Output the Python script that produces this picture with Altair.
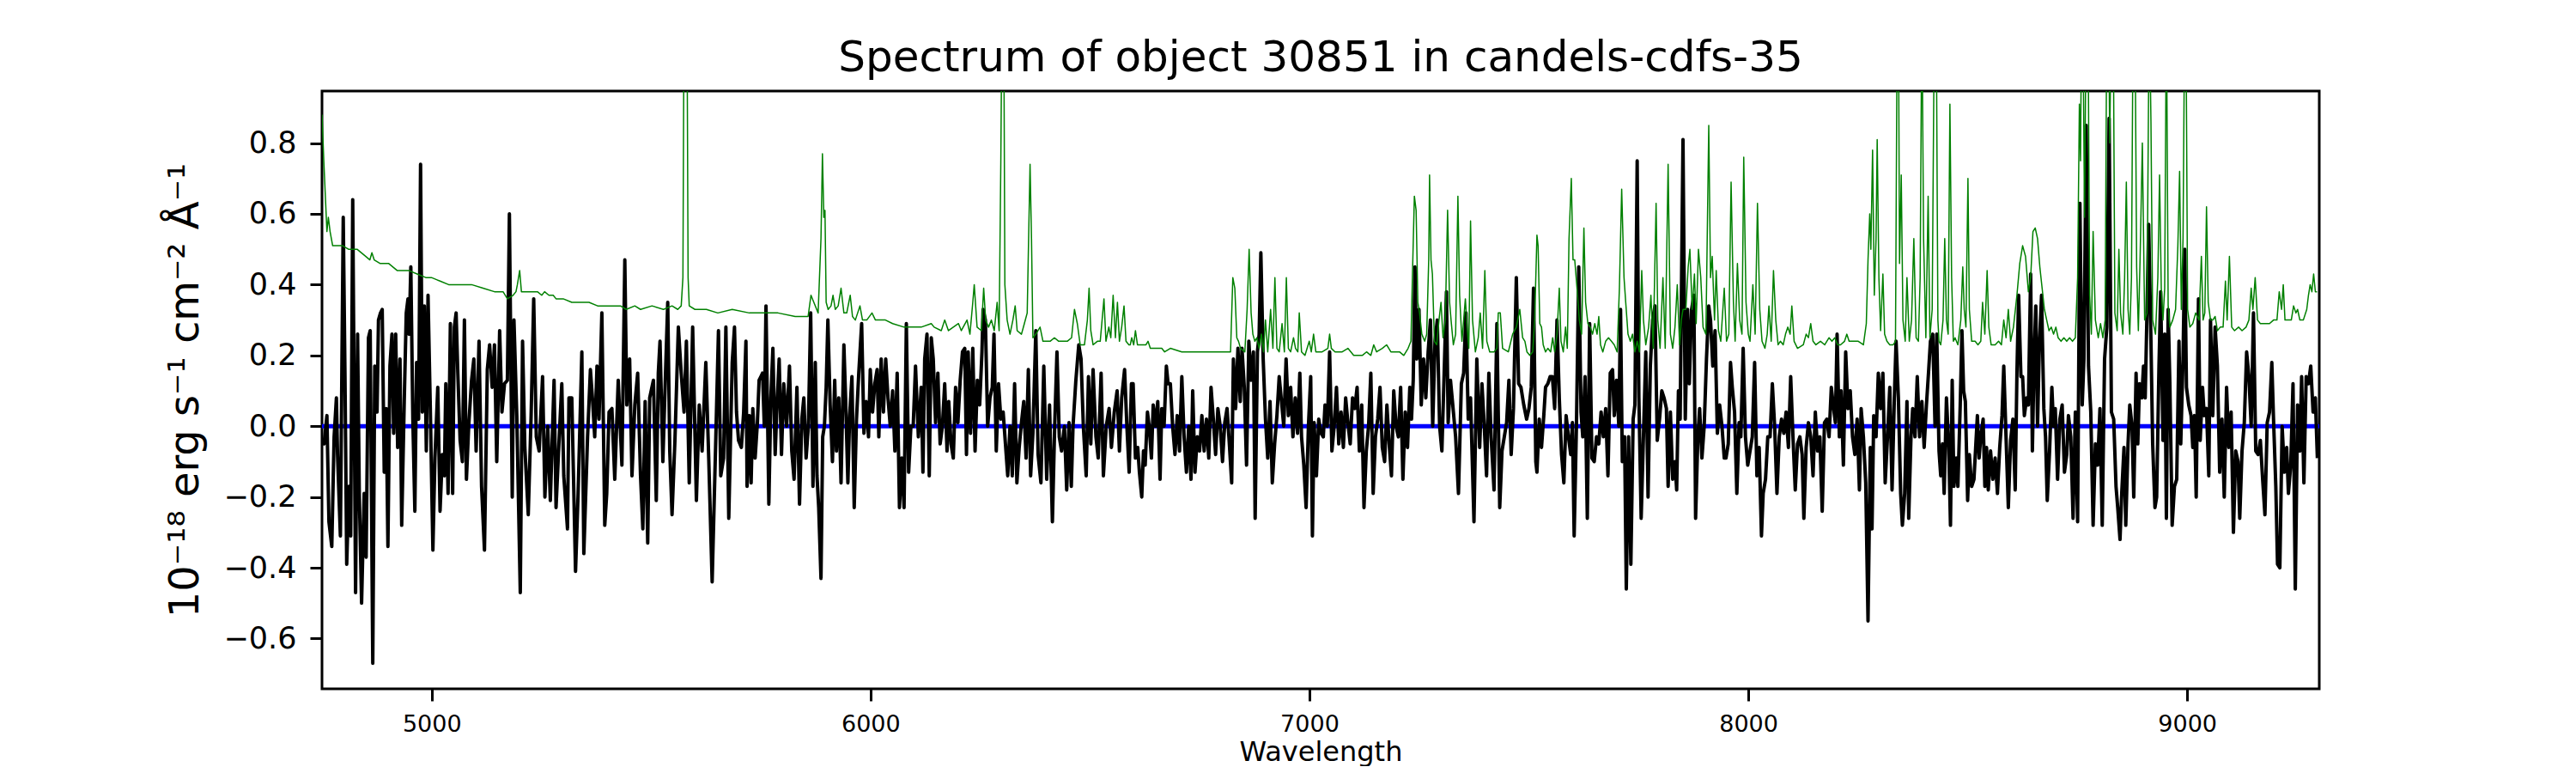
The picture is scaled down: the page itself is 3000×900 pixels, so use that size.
import altair as alt
import pandas as pd

# ---------------- data ----------------
# Black: object flux, 1e-18 erg/s/cm2/A
black_wave_a = [
    4750.1, 4754.7, 4761.2, 4765.8, 4772.3, 4777.6, 4782.8, 4785.4, 4791.9, 4798.4,
    4802.4, 4806.3, 4811.5, 4815.4, 4820.0, 4826.5, 4831.1, 4835.0, 4840.2, 4846.1,
    4850.6, 4855.9, 4859.8, 4865.7, 4870.2, 4875.4, 4878.7, 4883.3, 4887.2, 4891.8,
    4896.3, 4900.2, 4904.8, 4909.4, 4913.3, 4917.9, 4922.4, 4927.7, 4931.6, 4937.4,
    4942.0, 4945.9, 4948.5, 4952.4, 4957.0, 4961.6, 4965.5, 4970.1, 4974.6, 4978.6,
    4983.1, 4987.7, 4991.6, 4996.8, 5002.7, 5007.3, 5013.8, 5019.0, 5024.2, 5028.8,
    5032.1, 5037.3, 5042.5, 5047.7, 5051.6, 5055.6, 5059.5, 5064.7, 5069.9, 5074.5,
    5079.1, 5084.3, 5090.8, 5096.0, 5101.2, 5107.8, 5113.6, 5120.2, 5126.7, 5131.9,
    5137.8, 5143.0, 5148.2, 5154.8, 5160.0, 5165.9, 5172.4, 5177.0, 5183.5, 5187.4,
    5193.9, 5201.8, 5207.0, 5212.2, 5220.0, 5226.5, 5232.4, 5238.3, 5244.8, 5252.6,
    5257.9, 5264.4, 5270.3, 5278.8, 5283.3, 5289.8, 5296.4, 5300.9, 5309.4, 5312.7,
    5319.2, 5327.7, 5333.6, 5342.1, 5346.6, 5355.1, 5361.6, 5366.2, 5371.4, 5376.6,
    5381.2, 5387.7, 5394.3, 5398.8, 5404.1, 5410.6, 5417.1, 5425.0, 5433.4, 5440.0,
    5444.5, 5451.0, 5456.3, 5462.8, 5469.3, 5475.8, 5481.1, 5486.3, 5492.2, 5496.7,
    5505.2, 5511.7, 5516.3, 5520.2, 5526.7, 5532.0, 5537.8, 5542.4, 5547.6, 5554.2,
    5562.0, 5568.5, 5575.0, 5580.3, 5586.8, 5594.6, 5603.1, 5609.6, 5616.1, 5624.6,
    5631.2, 5639.0, 5646.8, 5653.4, 5658.6, 5665.1, 5670.3, 5676.9,
]
black_flux_a = [
    -0.04, -0.05, 0.03, -0.27, -0.34, -0.03, 0.08, -0.08, -0.31, 0.59,
    0.14, -0.39, -0.17, -0.31, 0.64, -0.47, 0.26, -0.19, -0.50, -0.19,
    -0.37, 0.25, 0.27, -0.67, 0.17, 0.04, 0.30, 0.32, 0.33, -0.13,
    0.05, -0.34, 0.17, 0.26, -0.02, 0.26, -0.06, 0.19, -0.28, 0.07,
    0.32, 0.36, 0.26, 0.45, 0.02, -0.24, 0.18, 0.02, 0.74, 0.04,
    0.34, -0.07, 0.37, 0.05, -0.35, -0.09, 0.11, -0.24, -0.08, -0.14,
    0.12, -0.19, 0.29, -0.19, 0.28, 0.32, 0.15, -0.04, -0.10, 0.30,
    -0.15, 0.00, 0.13, 0.19, -0.07, 0.24, -0.17, -0.35, 0.16, 0.23,
    0.11, 0.23, -0.10, 0.27, 0.04, 0.12, 0.13, 0.60, -0.20, 0.30,
    0.03, -0.47, 0.24, -0.06, -0.25, 0.03, 0.36, -0.03, -0.07, 0.14,
    -0.20, 0.00, -0.21, 0.13, -0.23, -0.05, 0.12, -0.14, -0.29, 0.08,
    0.08, -0.41, -0.19, 0.21, -0.36, -0.03, 0.16, 0.08, -0.03, 0.17,
    0.02, 0.32, -0.28, -0.19, 0.04, 0.05, -0.15, 0.13, -0.11, 0.47,
    0.06, 0.19, -0.14, 0.06, 0.15, -0.14, -0.29, 0.07, -0.33, 0.08,
    0.13, -0.21, 0.15, 0.24, -0.10, 0.12, 0.35, -0.07, -0.25, -0.04,
    0.28, 0.15, 0.04, 0.24, -0.16, 0.28, -0.21, 0.06, -0.07, 0.18,
    -0.09, -0.44, -0.06, 0.27, -0.14, -0.09, 0.28, -0.26,
]
black_wave_b = [
    5684.7, 5689.9, 5694.5, 5699.1, 5705.6, 5710.8, 5716.0, 5718.6, 5723.9, 5727.8,
    5731.7, 5736.9, 5742.1, 5746.0, 5750.0, 5753.9, 5757.8, 5761.7, 5768.2, 5772.8,
    5777.4, 5782.6, 5786.5, 5791.7, 5797.0, 5802.2, 5808.7, 5815.2, 5820.4, 5825.7,
    5832.2, 5838.1, 5843.3, 5847.9, 5853.1, 5858.3, 5863.5, 5868.7, 5874.0, 5877.9,
    5881.8, 5887.0, 5890.9, 5894.8, 5898.8, 5902.7, 5907.9, 5913.1, 5918.3, 5922.3,
    5927.5, 5932.7, 5939.2, 5943.1, 5948.3, 5952.3, 5957.5, 5962.7, 5967.9, 5973.1,
    5979.7, 5984.9, 5990.1, 5995.3, 5999.3, 6004.5, 6009.7, 6014.9, 6018.8, 6024.1,
    6029.3, 6034.5, 6039.7, 6044.9, 6050.2, 6055.4, 6060.6, 6065.8, 6071.0, 6076.3,
    6081.5, 6086.7, 6091.9, 6097.1, 6102.4, 6108.9, 6115.4, 6119.3, 6123.3, 6128.5,
    6133.7, 6138.3, 6142.8, 6148.1, 6153.3, 6158.5, 6163.7, 6168.9, 6174.2, 6178.1,
    6183.3, 6188.5, 6193.7, 6199.0, 6204.2, 6209.4, 6214.6, 6218.5, 6222.4, 6227.7,
    6232.9, 6238.1, 6243.3, 6248.6, 6253.8, 6256.4, 6261.6, 6266.8, 6272.0, 6277.3,
    6281.2, 6286.4, 6291.6, 6296.8, 6302.1, 6307.3, 6312.5, 6317.7, 6322.9, 6328.2,
    6333.4, 6338.6, 6343.8, 6349.0, 6354.3, 6359.5, 6364.7, 6369.9, 6376.5, 6381.7,
    6388.2, 6394.7, 6401.3, 6407.8, 6414.3, 6419.5, 6424.7, 6430.0, 6435.2, 6441.7,
    6446.9, 6452.2, 6457.4, 6461.3, 6467.8, 6474.4, 6479.6, 6484.8, 6491.3, 6496.5,
    6501.8, 6507.0, 6513.5, 6518.7, 6525.3, 6530.5, 6537.0, 6543.5, 6548.8, 6555.3,
    6561.8, 6567.0, 6572.2, 6578.8, 6584.0, 6589.2, 6594.4,
]
black_flux_b = [
    0.18, 0.28, 0.04, -0.04, -0.06, 0.04, 0.24, -0.17, 0.03, -0.16,
    0.05, -0.09, 0.01, 0.13, 0.14, 0.15, 0.00, 0.34, -0.22, 0.08,
    0.22, -0.08, 0.05, 0.19, -0.08, 0.12, 0.00, 0.17, -0.07, -0.15,
    0.11, -0.22, 0.02, 0.08, -0.09, 0.00, 0.32, -0.17, 0.18, -0.14,
    -0.23, -0.43, -0.03, 0.00, 0.11, 0.30, 0.06, -0.10, 0.13, -0.07,
    0.08, -0.16, 0.23, 0.08, -0.16, 0.03, 0.14, -0.23, 0.02, 0.15,
    0.29, -0.02, 0.07, -0.03, 0.16, 0.04, 0.12, 0.16, -0.03, 0.19,
    0.04, 0.19, 0.08, 0.00, 0.10, -0.07, 0.15, -0.23, -0.09, -0.23,
    0.29, -0.13, 0.00, 0.00, 0.17, -0.03, 0.11, -0.13, 0.19, 0.26,
    -0.14, 0.25, 0.19, 0.01, 0.15, -0.05, 0.00, 0.12, -0.07, 0.07,
    -0.05, -0.09, 0.11, 0.01, 0.13, 0.21, 0.22, -0.08, 0.21, -0.02,
    0.22, -0.07, 0.13, 0.06, 0.21, 0.33, 0.30, 0.00, 0.08, 0.11,
    0.26, -0.07, 0.12, 0.02, 0.04, -0.05, -0.14, 0.00, -0.14, 0.12,
    -0.16, -0.06, 0.01, 0.07, -0.09, 0.16, -0.14, -0.02, 0.27, -0.08,
    -0.16, 0.17, -0.15, 0.06, -0.27, 0.00, 0.21, -0.03, -0.07, 0.00,
    -0.18, 0.01, -0.17, 0.00, 0.13, 0.23, 0.19, 0.00, -0.14, 0.14,
    -0.05, 0.16, -0.03, -0.09, 0.15, -0.14, 0.00, 0.05, -0.06, 0.04,
    0.10, -0.07, 0.08, 0.16, 0.00, -0.13, 0.12,
]
black_wave_c = [
    6598.3, 6603.5, 6608.7, 6612.6, 6617.9, 6621.8, 6625.7, 6630.9, 6634.8, 6640.0,
    6644.0, 6649.2, 6654.4, 6659.6, 6663.5, 6668.8, 6674.0, 6677.9, 6683.1, 6688.3,
    6693.6, 6698.8, 6704.0, 6709.2, 6714.4, 6719.7, 6724.9, 6730.1, 6734.0, 6739.2,
    6744.5, 6749.7, 6754.9, 6760.1, 6765.3, 6770.6, 6775.8, 6781.0, 6786.2, 6791.4,
    6796.7, 6801.9, 6807.1, 6812.3, 6817.5, 6822.8, 6826.7, 6831.9, 6837.1, 6842.3,
    6846.3, 6851.5, 6856.7, 6861.9, 6867.1, 6872.4, 6876.3, 6881.5, 6885.4, 6889.3,
    6894.6, 6899.8, 6905.0, 6910.2, 6915.4, 6920.7, 6925.9, 6931.1, 6936.3, 6941.5,
    6946.8, 6952.0, 6957.2, 6962.4, 6967.6, 6972.9, 6978.1, 6982.0, 6987.2, 6992.4,
    6997.7, 7002.9, 7006.8, 7010.7, 7015.9, 7021.2, 7026.4, 7031.6, 7035.5, 7040.7,
    7046.0, 7051.2, 7056.4, 7061.6, 7066.8, 7072.1, 7077.3, 7082.5, 7087.7, 7092.9,
    7098.2, 7103.4, 7108.6, 7113.8, 7119.1, 7124.3, 7129.5, 7134.7, 7139.9, 7145.2,
    7150.4, 7155.6, 7160.8, 7166.0, 7171.3, 7176.5, 7181.7, 7186.9, 7192.1, 7197.4,
    7202.6, 7207.8, 7213.0, 7218.2, 7223.5, 7228.7, 7232.6, 7236.5, 7240.4, 7244.4,
    7249.6, 7254.8, 7260.0, 7265.2, 7270.5, 7275.7, 7280.9, 7286.1, 7291.3, 7296.6,
    7301.8, 7307.0, 7312.2, 7316.1, 7321.4, 7326.6, 7333.1, 7339.6, 7346.2, 7351.4,
    7356.6, 7361.8, 7367.1, 7374.9, 7381.4, 7387.9, 7393.1, 7398.4, 7403.6, 7408.8,
    7414.0, 7420.6, 7427.1, 7433.6, 7438.8, 7444.0, 7449.3, 7454.5, 7459.7, 7464.9,
    7471.4, 7476.7, 7481.9, 7488.4, 7494.9, 7500.2, 7505.4, 7510.6, 7515.8,
]
black_flux_c = [
    0.12, -0.09, -0.06, -0.13, -0.20, -0.07, -0.11, 0.04, 0.00, -0.09,
    0.06, 0.00, 0.07, -0.15, 0.05, 0.00, 0.17, 0.12, 0.12, 0.00,
    -0.08, 0.03, -0.07, 0.14, -0.03, -0.13, 0.00, -0.15, 0.10, -0.13,
    -0.03, -0.07, 0.03, -0.07, 0.02, -0.09, 0.11, 0.02, -0.08, 0.05,
    0.00, -0.10, 0.01, 0.05, -0.05, -0.16, 0.19, 0.05, 0.22, 0.07,
    0.22, 0.11, -0.11, 0.24, 0.13, 0.21, -0.26, 0.21, 0.26, 0.49,
    0.19, 0.02, -0.09, 0.07, -0.16, -0.05, 0.03, 0.14, 0.07, 0.00,
    0.19, 0.03, 0.11, -0.03, 0.08, -0.02, 0.15, -0.03, -0.11, -0.23,
    0.00, 0.14, -0.31, 0.01, -0.14, 0.02, -0.02, -0.03, 0.06, 0.00,
    0.21, -0.07, 0.00, 0.11, -0.05, 0.04, -0.06, 0.08, 0.01, -0.05,
    0.08, 0.05, 0.11, -0.07, 0.06, -0.23, -0.07, 0.00, 0.15, -0.19,
    -0.03, 0.02, 0.11, -0.06, -0.10, 0.06, -0.05, -0.14, 0.10, 0.00,
    -0.03, 0.11, -0.15, 0.04, -0.06, 0.11, 0.02, 0.13, 0.45, 0.19,
    0.33, 0.06, 0.19, 0.08, 0.21, 0.30, 0.00, 0.24, 0.30, 0.00,
    -0.07, 0.15, 0.38, 0.01, 0.13, 0.06, -0.03, -0.19, 0.12, 0.15,
    0.32, 0.02, 0.08, -0.27, 0.19, -0.06, 0.12, 0.00, -0.14, 0.15,
    -0.03, -0.18, 0.29, -0.23, -0.07, -0.03, 0.01, 0.13, -0.08, 0.05,
    0.42, 0.12, 0.11, 0.06, 0.02, 0.05, 0.11, 0.39, -0.10,
]
black_wave_d = [
    7518.4, 7523.6, 7528.8, 7534.0, 7538.0, 7543.2, 7548.4, 7553.6, 7558.8, 7564.1,
    7569.3, 7574.5, 7579.7, 7584.9, 7590.2, 7595.4, 7599.3, 7603.2, 7608.4, 7613.7,
    7618.9, 7622.8, 7628.0, 7633.2, 7638.5, 7643.7, 7648.9, 7654.1, 7659.3, 7664.6,
    7669.8, 7675.0, 7680.2, 7685.4, 7690.7, 7694.6, 7699.8, 7705.0, 7708.9, 7712.9,
    7718.1, 7722.0, 7727.2, 7732.4, 7737.6, 7741.6, 7746.8, 7750.7, 7755.9, 7761.1,
    7766.4, 7771.6, 7776.8, 7782.0, 7787.3, 7792.5, 7797.7, 7802.9, 7808.1, 7813.4,
    7817.3, 7822.5, 7827.7, 7832.9, 7836.8, 7840.8, 7844.7, 7851.2, 7856.4, 7861.6,
    7865.6, 7870.8, 7876.0, 7879.9, 7885.1, 7889.1, 7894.3, 7899.5, 7904.7, 7909.9,
    7913.9, 7919.1, 7924.3, 7929.5, 7934.7, 7940.0, 7945.2, 7949.1, 7954.3, 7959.5,
    7963.5, 7968.7, 7973.9, 7979.1, 7983.0, 7988.3, 7993.5, 7998.7, 8003.9, 8009.1,
    8014.4, 8019.6, 8024.8, 8030.0, 8033.9, 8039.2, 8044.4, 8049.6, 8054.8, 8060.0,
    8065.3, 8070.5, 8075.7, 8080.9, 8086.1, 8091.4, 8096.6, 8101.8, 8107.0, 8112.2,
    8117.5, 8122.7, 8126.6, 8131.8, 8137.0, 8142.3, 8147.5, 8152.7, 8157.9, 8163.1,
    8168.4, 8173.6, 8178.8, 8184.0, 8189.2, 8194.5, 8198.4, 8202.3, 8207.5, 8211.4,
    8216.7, 8221.9, 8227.1, 8232.3, 8237.5, 8242.8, 8248.0, 8253.2, 8257.1, 8262.3,
    8267.6, 8272.8, 8278.0, 8281.9, 8285.8, 8291.1, 8296.3, 8301.5, 8306.7, 8311.9,
    8317.2, 8322.4, 8327.6, 8332.8, 8336.7, 8342.0, 8347.2, 8351.1, 8356.3, 8361.5,
    8365.5, 8370.7, 8374.6, 8379.8, 8385.0, 8390.3, 8395.5, 8400.7, 8405.9, 8411.1,
    8415.0, 8420.3, 8425.5, 8429.4, 8434.6,
]
black_flux_d = [
    -0.13, 0.02, -0.06, 0.03, 0.11, 0.12, 0.14, 0.14, 0.05, 0.30,
    0.08, -0.08, -0.16, 0.03, -0.03, -0.08, 0.01, -0.31, 0.00, 0.45,
    0.04, -0.03, 0.14, -0.26, 0.29, -0.09, -0.10, -0.03, -0.05, 0.04,
    -0.03, 0.05, -0.14, 0.15, 0.16, 0.03, 0.13, 0.00, 0.33, -0.10,
    -0.03, -0.46, -0.03, -0.39, 0.02, 0.06, 0.75, 0.08, -0.26, -0.03,
    0.21, -0.20, 0.17, 0.30, 0.34, -0.04, 0.02, 0.10, 0.08, 0.05,
    -0.17, 0.04, -0.15, -0.10, -0.18, 0.10, 0.02, 0.81, 0.02, 0.33,
    0.12, 0.33, 0.37, -0.26, -0.03, 0.05, -0.09, 0.00, 0.19, 0.34,
    0.30, 0.17, 0.27, -0.02, 0.06, 0.00, -0.09, -0.09, -0.05, 0.18,
    0.11, 0.04, -0.19, 0.01, -0.03, 0.22, -0.03, -0.11, -0.07, -0.03,
    0.18, -0.14, -0.06, -0.31, -0.19, -0.15, -0.03, -0.03, 0.12, 0.00,
    -0.19, -0.03, 0.02, -0.02, 0.04, -0.06, 0.14, -0.03, -0.18, -0.05,
    -0.03, -0.08, -0.26, -0.06, 0.01, -0.03, -0.14, 0.04, -0.07, -0.03,
    -0.24, 0.01, 0.02, -0.03, 0.11, 0.05, 0.01, 0.26, -0.03, 0.10,
    -0.11, 0.21, 0.05, 0.10, -0.03, -0.08, 0.02, -0.18, 0.05, -0.03,
    -0.16, -0.55, -0.06, -0.29, 0.03, -0.03, 0.15, 0.05, 0.15, -0.16,
    -0.03, 0.11, -0.18, 0.08, 0.24, 0.08, -0.19, -0.28, -0.19, 0.07,
    -0.26, -0.03, 0.05, -0.03, 0.14, -0.03, 0.07, -0.06, 0.06, 0.16,
    0.24, 0.26, 0.00, 0.26, -0.07,
]
black_wave_e = [
    8438.5, 8442.4, 8446.3, 8451.5, 8456.8, 8460.7, 8464.6, 8468.5, 8473.7, 8477.6,
    8482.9, 8486.8, 8490.7, 8494.6, 8499.8, 8503.7, 8509.0, 8514.2, 8518.1, 8522.0,
    8525.9, 8529.8, 8535.1, 8539.0, 8542.9, 8546.8, 8552.0, 8557.3, 8562.5, 8567.7,
    8572.9, 8578.1, 8582.1, 8587.3, 8592.5, 8597.7, 8602.9, 8608.2, 8612.1, 8616.0,
    8621.2, 8625.1, 8629.0, 8634.3, 8638.2, 8643.4, 8647.3, 8651.2, 8655.1, 8659.1,
    8663.0, 8668.2, 8673.4, 8677.3, 8681.2, 8686.5, 8691.7, 8695.6, 8699.5, 8704.7,
    8709.9, 8715.2, 8720.4, 8725.6, 8729.5, 8734.8, 8740.0, 8745.2, 8750.4, 8755.6,
    8760.9, 8764.8, 8770.0, 8775.2, 8780.4, 8785.7, 8790.9, 8796.1, 8801.3, 8806.5,
    8811.8, 8817.0, 8822.2, 8827.4, 8832.6, 8837.9, 8841.8, 8847.0, 8850.9, 8856.1,
    8860.1, 8865.3, 8869.2, 8874.4, 8878.3, 8883.6, 8887.5, 8891.4, 8896.6, 8900.5,
    8904.4, 8908.4, 8912.3, 8917.5, 8921.4, 8926.6, 8930.5, 8935.8, 8939.7, 8944.9,
    8948.8, 8952.7, 8956.7, 8960.6, 8965.8, 8971.0, 8976.2, 8981.4, 8985.4, 8990.6,
    8994.5, 8998.4, 9003.6, 9008.9, 9012.8, 9016.7, 9020.6, 9025.8, 9029.7, 9035.0,
    9038.9, 9044.1, 9049.3, 9053.2, 9058.4, 9063.7, 9068.9, 9074.1, 9079.3, 9084.5,
    9089.8, 9095.0, 9100.2, 9105.4, 9110.7, 9115.9, 9119.8, 9125.0, 9130.2, 9135.5,
    9140.7, 9145.9, 9151.1, 9156.3, 9161.6, 9166.8, 9172.0, 9177.2, 9182.4, 9187.7,
    9192.9, 9196.8, 9202.0, 9205.9, 9211.2, 9216.4, 9221.6, 9226.8, 9230.7, 9236.0,
    9241.2, 9246.4, 9251.6, 9256.8, 9260.8, 9266.0, 9271.2, 9276.4, 9281.6, 9286.9,
    9292.1, 9296.7,
]
black_flux_e = [
    -0.14, -0.05, -0.19, 0.08, -0.06, -0.28, 0.13, -0.17, -0.09, -0.17,
    0.06, 0.27, 0.10, 0.07, -0.21, -0.08, -0.17, -0.15, -0.06, 0.03,
    -0.09, -0.03, 0.02, -0.17, -0.06, -0.18, -0.07, -0.15, -0.09, -0.19,
    -0.06, 0.03, 0.17, -0.03, -0.23, -0.04, 0.02, -0.18, 0.15, 0.37,
    0.14, 0.14, 0.03, 0.08, 0.06, 0.43, -0.07, 0.19, 0.34, 0.00,
    0.22, 0.37, 0.05, -0.03, -0.21, -0.07, 0.11, 0.00, 0.05, -0.15,
    0.02, 0.06, -0.13, -0.08, 0.03, -0.03, -0.26, 0.04, -0.27, 0.63,
    0.06, 0.19, 0.85, 0.17, 0.04, -0.28, -0.05, -0.11, 0.05, -0.28,
    0.19, 0.28, 0.87, 0.04, 0.02, -0.17, -0.23, -0.32, -0.19, -0.06,
    -0.28, -0.05, 0.06, 0.00, -0.20, 0.15, -0.05, 0.12, 0.08, 0.17,
    0.08, 0.32, 0.57, 0.24, -0.05, -0.23, -0.20, 0.17, 0.38, -0.04,
    0.26, -0.26, 0.33, 0.12, -0.28, -0.17, -0.15, 0.24, -0.05, 0.19,
    0.50, 0.11, 0.06, 0.03, -0.06, 0.03, -0.20, 0.36, -0.04, 0.11,
    0.03, 0.05, -0.14, 0.30, 0.03, 0.28, 0.17, -0.13, 0.02, -0.20,
    0.11, -0.06, 0.04, -0.30, -0.07, -0.10, -0.26, -0.07, 0.01, 0.21,
    0.14, 0.00, 0.32, -0.07, -0.08, -0.04, -0.15, -0.25, 0.01, 0.04,
    0.18, 0.02, -0.17, -0.39, -0.40, 0.00, -0.13, -0.06, -0.19, -0.11,
    0.12, -0.46, 0.06, -0.07, 0.14, -0.16, 0.14, 0.12, 0.17, 0.04,
    0.08, -0.09,
]

# Green: noise / sky spectrum (values above 0.95 run off the top of the panel)
green_wave_a = [
    4750.1, 4754.1, 4758.0, 4761.2, 4764.5, 4768.4, 4774.3, 4784.1, 4797.1, 4810.2,
    4829.8, 4849.3, 4859.1, 4863.7, 4868.9, 4882.0, 4901.6, 4921.1, 4947.2, 4966.8,
    4986.4, 4999.4, 5019.0, 5038.6, 5064.7, 5090.8, 5116.9, 5143.0, 5162.6, 5172.4,
    5185.4, 5192.0, 5195.2, 5200.4, 5204.4, 5214.8, 5227.9, 5240.9, 5250.7, 5257.2,
    5267.0, 5276.8, 5283.3, 5299.6, 5319.2, 5338.8, 5358.4, 5378.0, 5404.1, 5430.2,
    5443.2, 5462.8, 5475.8, 5501.9, 5528.0, 5547.6, 5560.7, 5568.5, 5572.4, 5575.0,
    5581.6, 5584.2, 5586.8, 5599.8, 5625.9, 5652.0,
]
green_flux_a = [
    0.88, 0.75, 0.64, 0.55, 0.59, 0.55, 0.51, 0.51, 0.51, 0.50,
    0.50, 0.48, 0.47, 0.49, 0.47, 0.46, 0.46, 0.44, 0.44, 0.43,
    0.42, 0.42, 0.41, 0.40, 0.40, 0.40, 0.39, 0.38, 0.38, 0.36,
    0.37, 0.38, 0.40, 0.44, 0.38, 0.38, 0.38, 0.38, 0.37, 0.38,
    0.37, 0.37, 0.36, 0.36, 0.35, 0.35, 0.35, 0.34, 0.34, 0.34,
    0.33, 0.34, 0.33, 0.34, 0.33, 0.34, 0.33, 0.34, 0.42, 1.20,
    1.20, 0.42, 0.34, 0.33, 0.33, 0.32,
]
green_wave_b = [
    5684.7, 5723.9, 5763.0, 5789.1, 5828.3, 5857.6, 5864.2, 5870.7, 5880.5, 5887.0,
    5890.3, 5893.5, 5896.1, 5898.8, 5903.3, 5909.9, 5914.4, 5919.6, 5926.2, 5932.7,
    5939.2, 5945.7, 5953.6, 5958.8, 5965.3, 5975.8, 5981.6, 5991.4, 6003.2, 6011.0,
    6033.8, 6050.2, 6076.3, 6115.4, 6138.3, 6144.8, 6161.1, 6168.9, 6177.4, 6200.3,
    6206.8, 6219.8, 6226.4, 6232.9, 6236.2, 6242.7, 6252.5, 6257.7, 6262.3, 6268.8,
    6275.3, 6281.8, 6288.4, 6292.9, 6296.8, 6299.5, 6303.4, 6306.0, 6311.2, 6317.7,
    6324.3, 6329.5, 6334.0, 6343.8, 6350.4, 6356.9, 6360.1, 6363.4, 6366.7, 6369.9,
    6376.5, 6386.2, 6392.8, 6409.1, 6418.9, 6428.7, 6448.2, 6458.0, 6464.6, 6471.1,
    6477.6, 6487.4, 6494.0, 6497.9, 6501.8, 6507.0, 6516.8, 6523.3, 6531.8, 6536.3,
    6542.9, 6547.4, 6552.7, 6557.9, 6562.5, 6567.0, 6572.2, 6577.5, 6582.0, 6588.6,
]
green_flux_b = [
    0.33, 0.32, 0.32, 0.32, 0.31, 0.31, 0.37, 0.35, 0.32, 0.53,
    0.77, 0.59, 0.61, 0.35, 0.33, 0.34, 0.37, 0.33, 0.34, 0.39,
    0.32, 0.32, 0.37, 0.31, 0.30, 0.34, 0.30, 0.30, 0.32, 0.30,
    0.30, 0.29, 0.28, 0.28, 0.29, 0.28, 0.27, 0.30, 0.27, 0.29,
    0.27, 0.30, 0.26, 0.35, 0.40, 0.28, 0.27, 0.39, 0.30, 0.28,
    0.30, 0.27, 0.35, 0.27, 0.75, 1.20, 1.20, 0.40, 0.30, 0.26,
    0.30, 0.34, 0.27, 0.26, 0.29, 0.32, 0.53, 0.74, 0.53, 0.25,
    0.26, 0.28, 0.24, 0.24, 0.25, 0.24, 0.24, 0.25, 0.33, 0.29,
    0.23, 0.23, 0.30, 0.39, 0.27, 0.23, 0.24, 0.24, 0.36, 0.24,
    0.28, 0.25, 0.37, 0.25, 0.35, 0.24, 0.28, 0.34, 0.24, 0.23,
]
green_wave_c = [
    6591.8, 6595.0, 6599.6, 6603.5, 6608.1, 6617.9, 6627.6, 6632.2, 6637.4, 6650.5,
    6663.5, 6670.1, 6683.1, 6709.2, 6735.3, 6748.4, 6774.5, 6800.6, 6820.2, 6825.4,
    6830.0, 6834.5, 6838.4, 6843.0, 6852.8, 6858.0, 6862.6, 6867.1, 6871.1, 6875.6,
    6880.2, 6885.4, 6890.6, 6895.2, 6899.8, 6905.0, 6911.5, 6916.8, 6921.3, 6925.9,
    6931.1, 6937.6, 6942.9, 6947.4, 6952.0, 6957.2, 6963.7, 6968.3, 6973.5, 6976.8,
    6982.0, 6989.8, 6999.6, 7004.2, 7009.4, 7014.6, 7029.0, 7042.0, 7046.0, 7049.9,
    7058.4, 7074.7, 7087.7, 7100.8, 7120.4, 7130.1, 7139.9, 7146.5, 7153.0, 7166.0,
    7175.8, 7185.6, 7195.4, 7205.2, 7215.0, 7224.8, 7231.3, 7234.6, 7239.1, 7243.1,
    7247.0, 7250.9, 7256.1, 7262.6, 7267.2, 7271.8, 7273.7, 7277.0, 7280.2, 7284.8,
    7290.0, 7295.2, 7299.8, 7304.4, 7309.6, 7314.8, 7319.4, 7322.7, 7327.9, 7333.1,
    7338.3, 7342.2, 7347.5, 7355.3, 7359.2, 7363.1, 7367.1, 7371.6, 7378.1, 7384.7,
    7389.2, 7394.5, 7399.7, 7404.2, 7410.8, 7420.6, 7427.1, 7430.3, 7434.9, 7440.1,
    7453.2, 7463.0, 7471.4, 7479.3, 7485.8, 7491.0, 7495.6, 7502.1, 7508.7, 7513.2,
    7518.4,
]
green_flux_c = [
    0.23, 0.25, 0.23, 0.27, 0.23, 0.23, 0.23, 0.24, 0.22, 0.22,
    0.22, 0.21, 0.22, 0.21, 0.21, 0.21, 0.21, 0.21, 0.21, 0.42,
    0.39, 0.25, 0.24, 0.22, 0.21, 0.33, 0.50, 0.32, 0.26, 0.24,
    0.25, 0.22, 0.26, 0.21, 0.30, 0.21, 0.33, 0.22, 0.42, 0.22,
    0.21, 0.29, 0.21, 0.42, 0.22, 0.21, 0.25, 0.22, 0.21, 0.32,
    0.21, 0.20, 0.24, 0.21, 0.26, 0.21, 0.21, 0.22, 0.26, 0.22,
    0.21, 0.21, 0.22, 0.20, 0.20, 0.21, 0.20, 0.23, 0.21, 0.22,
    0.23, 0.21, 0.21, 0.21, 0.20, 0.22, 0.24, 0.42, 0.65, 0.61,
    0.35, 0.32, 0.26, 0.24, 0.26, 0.47, 0.71, 0.47, 0.43, 0.24,
    0.23, 0.30, 0.35, 0.25, 0.30, 0.61, 0.35, 0.30, 0.23, 0.26,
    0.65, 0.37, 0.24, 0.36, 0.28, 0.22, 0.58, 0.30, 0.21, 0.25,
    0.32, 0.22, 0.44, 0.24, 0.21, 0.21, 0.22, 0.32, 0.32, 0.22,
    0.21, 0.26, 0.28, 0.33, 0.25, 0.24, 0.21, 0.20, 0.21, 0.30,
    0.54,
]
green_wave_d = [
    7521.0, 7524.9, 7528.8, 7532.7, 7538.0, 7543.2, 7549.7, 7554.3, 7558.8, 7564.1,
    7569.3, 7573.2, 7578.4, 7583.6, 7587.6, 7591.5, 7596.7, 7600.6, 7604.5, 7609.7,
    7615.0, 7620.2, 7625.4, 7629.3, 7634.5, 7639.8, 7645.0, 7650.2, 7655.4, 7659.3,
    7663.3, 7668.5, 7675.0, 7681.5, 7688.1, 7694.6, 7701.1, 7706.3, 7711.5, 7716.8,
    7720.7, 7725.9, 7731.1, 7736.3, 7741.6, 7746.8, 7752.0, 7757.2, 7761.1, 7766.4,
    7772.9, 7778.1, 7783.3, 7789.9, 7793.8, 7799.0, 7805.5, 7810.7, 7817.3, 7822.5,
    7827.7, 7832.9, 7838.2, 7843.4, 7847.3, 7851.2, 7857.7, 7863.0, 7866.9, 7872.1,
    7877.3, 7881.2, 7886.4, 7891.7, 7896.9, 7903.4, 7909.9, 7913.9, 7917.8, 7923.0,
    7926.9, 7932.1, 7937.3, 7945.2, 7950.4, 7955.6, 7960.8, 7966.1, 7970.0, 7975.2,
    7980.4, 7985.6, 7989.6, 7994.8, 8000.0, 8003.9, 8010.4, 8015.6, 8020.9, 8026.1,
    8031.3, 8037.9, 8043.1, 8047.0, 8052.2, 8057.4, 8062.6, 8067.9, 8073.1, 8079.6,
    8084.8, 8090.1, 8095.3, 8099.2, 8104.4, 8112.2, 8125.3, 8131.8, 8137.0, 8142.3,
    8147.5, 8154.0, 8164.5, 8174.2, 8184.0, 8190.6, 8197.1, 8203.6, 8210.1, 8219.3,
    8224.5, 8229.7, 8240.1, 8250.6, 8262.3, 8268.9, 8272.8, 8276.7, 8279.3, 8283.2,
    8287.1, 8291.1, 8293.7, 8297.6, 8301.5, 8306.7, 8310.6, 8315.9, 8322.4, 8330.2,
    8335.4, 8339.4, 8342.0, 8344.6, 8348.5, 8352.4, 8357.6, 8361.5, 8366.8, 8372.0,
    8377.2, 8382.4, 8387.6, 8391.6, 8395.5, 8399.4, 8404.6, 8409.8, 8413.8, 8419.0,
    8424.2, 8428.1, 8432.0,
]
green_flux_d = [
    0.51, 0.29, 0.28, 0.23, 0.21, 0.22, 0.21, 0.25, 0.21, 0.26,
    0.39, 0.24, 0.21, 0.28, 0.22, 0.53, 0.70, 0.47, 0.47, 0.39,
    0.30, 0.26, 0.56, 0.35, 0.29, 0.28, 0.26, 0.29, 0.26, 0.31,
    0.23, 0.21, 0.24, 0.25, 0.24, 0.23, 0.21, 0.39, 0.67, 0.42,
    0.35, 0.26, 0.24, 0.26, 0.21, 0.24, 0.21, 0.44, 0.30, 0.23,
    0.28, 0.37, 0.22, 0.63, 0.30, 0.22, 0.42, 0.22, 0.74, 0.26,
    0.22, 0.28, 0.40, 0.23, 0.30, 0.33, 0.33, 0.45, 0.50, 0.33,
    0.43, 0.29, 0.50, 0.42, 0.28, 0.26, 0.85, 0.42, 0.48, 0.30,
    0.44, 0.27, 0.24, 0.39, 0.24, 0.26, 0.69, 0.35, 0.24, 0.46,
    0.30, 0.26, 0.76, 0.35, 0.26, 0.24, 0.40, 0.26, 0.63, 0.33,
    0.24, 0.22, 0.26, 0.34, 0.24, 0.44, 0.30, 0.23, 0.24, 0.23,
    0.26, 0.28, 0.26, 0.34, 0.24, 0.22, 0.23, 0.26, 0.25, 0.29,
    0.24, 0.23, 0.24, 0.23, 0.25, 0.24, 0.25, 0.23, 0.23, 0.24,
    0.26, 0.24, 0.24, 0.24, 0.23, 0.29, 0.47, 0.60, 0.50, 0.78,
    0.37, 0.53, 0.81, 0.42, 0.27, 0.43, 0.26, 0.24, 0.23, 0.23,
    0.24, 1.20, 1.20, 0.46, 0.71, 0.30, 0.24, 0.42, 0.24, 0.30,
    0.53, 0.25, 0.24, 0.42, 1.20, 0.53, 0.25, 0.65, 0.25, 0.33,
    1.20, 1.20, 0.30,
]
green_wave_e = [
    8434.6, 8438.5, 8443.7, 8447.6, 8451.5, 8455.4, 8459.4, 8463.3, 8467.2, 8471.1,
    8477.6, 8484.2, 8488.7, 8492.0, 8495.9, 8500.5, 8503.7, 8509.0, 8516.8, 8523.3,
    8529.8, 8533.8, 8539.0, 8544.2, 8548.1, 8553.3, 8562.5, 8570.3, 8576.8, 8582.1,
    8587.3, 8592.5, 8597.7, 8604.2, 8612.1, 8618.6, 8625.1, 8631.7, 8638.2, 8643.4,
    8648.6, 8653.8, 8659.1, 8664.3, 8669.5, 8674.7, 8679.9, 8685.2, 8690.4, 8695.6,
    8700.8, 8706.0, 8712.6, 8719.1, 8725.6, 8732.1, 8738.7, 8745.2, 8750.4, 8754.4,
    8757.0, 8759.6, 8762.2, 8766.1, 8770.0, 8773.9, 8777.8, 8781.7, 8785.7, 8790.9,
    8797.4, 8802.6, 8807.9, 8813.1, 8817.0, 8820.9, 8823.5, 8827.4, 8831.4, 8835.3,
    8840.5, 8844.4, 8848.3, 8853.5, 8857.5, 8861.4, 8865.3, 8869.2, 8873.1, 8877.0,
    8880.9, 8884.9, 8888.8, 8892.7, 8897.9, 8903.1, 8908.4, 8913.6, 8917.5, 8921.4,
    8927.9, 8933.2, 8937.1, 8941.0, 8944.9, 8948.8, 8952.7, 8956.7, 8960.6, 8967.1,
    8973.6, 8978.8, 8982.8, 8986.7, 8990.6, 8994.5, 8997.1, 9001.0, 9006.2, 9012.8,
    9019.3, 9027.1, 9032.4, 9036.3, 9040.2, 9044.1, 9048.0, 9053.2, 9058.4, 9063.7,
    9068.9, 9075.4, 9081.9, 9087.2, 9091.1, 9096.3, 9101.5, 9108.0, 9117.2, 9125.0,
    9134.2, 9140.7, 9145.9, 9149.8, 9155.0, 9160.3, 9166.8, 9175.9, 9187.7, 9196.8,
    9204.6, 9209.8, 9215.1, 9219.0, 9222.9, 9230.7, 9237.3, 9242.5, 9247.7, 9251.6,
    9256.8, 9264.7, 9272.5, 9276.4, 9280.3, 9284.2, 9288.2, 9292.1, 9296.0,
]
green_flux_e = [
    0.24, 0.23, 0.30, 0.53, 0.30, 0.26, 0.91, 0.42, 0.24, 0.25,
    0.23, 0.30, 0.45, 0.33, 0.28, 0.70, 0.33, 0.24, 0.24, 0.23,
    0.24, 0.35, 0.26, 0.44, 0.28, 0.23, 0.23, 0.24, 0.23, 0.30,
    0.25, 0.33, 0.24, 0.28, 0.37, 0.46, 0.51, 0.48, 0.38, 0.42,
    0.55, 0.56, 0.53, 0.45, 0.39, 0.33, 0.30, 0.27, 0.28, 0.26,
    0.28, 0.25, 0.24, 0.25, 0.24, 0.25, 0.24, 0.25, 0.42, 0.91,
    0.75, 1.20, 1.20, 0.59, 1.20, 1.20, 0.37, 0.26, 0.55, 0.30,
    0.25, 0.29, 0.25, 0.30, 1.20, 1.20, 0.80, 1.20, 1.20, 0.32,
    0.27, 0.50, 0.32, 0.26, 0.42, 0.69, 0.33, 0.26, 0.42, 1.20,
    1.20, 0.45, 0.27, 0.47, 0.80, 0.30, 0.32, 1.20, 0.86, 0.30,
    0.26, 0.42, 0.71, 0.39, 0.30, 0.39, 1.20, 0.34, 0.28, 0.30,
    0.33, 0.51, 0.72, 0.33, 0.53, 1.20, 1.20, 0.33, 0.28, 0.29,
    0.32, 0.30, 0.48, 0.30, 0.32, 0.62, 0.35, 0.30, 0.30, 0.31,
    0.27, 0.28, 0.28, 0.41, 0.30, 0.48, 0.28, 0.27, 0.28, 0.27,
    0.28, 0.30, 0.39, 0.33, 0.42, 0.30, 0.29, 0.29, 0.29, 0.30,
    0.30, 0.38, 0.33, 0.40, 0.30, 0.30, 0.30, 0.34, 0.32, 0.33,
    0.30, 0.30, 0.33, 0.37, 0.40, 0.38, 0.43, 0.38, 0.38,
]

# Blue: model / contamination, flat at zero
blue_wave = [4750.0, 9301.0]
blue_flux = [0.0, 0.0]

x_ticks = [5000, 6000, 7000, 8000, 9000]
y_ticks = [-0.6, -0.4, -0.2, 0.0, 0.2, 0.4, 0.6, 0.8]
x_domain = [4750, 9301]
y_domain = [-0.742, 0.947]


def build(waves, fluxes):
    parts = []
    for w, f in zip(waves, fluxes):
        n = min(len(w), len(f))
        parts.append(pd.DataFrame({"wave": w[:n], "flux": f[:n]}))
    return pd.concat(parts, ignore_index=True)


black_df = build([black_wave_a, black_wave_b, black_wave_c, black_wave_d, black_wave_e],
                 [black_flux_a, black_flux_b, black_flux_c, black_flux_d, black_flux_e])
green_df = build([green_wave_a, green_wave_b, green_wave_c, green_wave_d, green_wave_e],
                 [green_flux_a, green_flux_b, green_flux_c, green_flux_d, green_flux_e])
blue_df = build([blue_wave], [blue_flux])

FONT = "DejaVu Sans"

x_enc = alt.X(
    "wave:Q",
    scale=alt.Scale(domain=x_domain, nice=False, zero=False),
    axis=alt.Axis(
        values=x_ticks, format="d", title="Wavelength", grid=False, domain=False,
        ticks=True, tickSize=14, tickWidth=3, tickColor="black",
        labelFont=FONT, labelFontSize=27, labelColor="black", labelPadding=14,
        titleFont=FONT, titleFontSize=32, titleFontWeight="normal", titleColor="black",
        titlePadding=4, labelFlush=False,
    ),
)
y_enc = alt.Y(
    "flux:Q",
    scale=alt.Scale(domain=y_domain, nice=False, zero=False),
    axis=alt.Axis(
        values=y_ticks, format=".1f", title="10⁻¹⁸ erg s⁻¹ cm⁻² Å⁻¹", grid=False,
        domain=False, ticks=True, tickSize=14, tickWidth=3, tickColor="black",
        labelFont=FONT, labelFontSize=35, labelColor="black", labelPadding=16,
        titleFont=FONT, titleFontSize=48, titleFontWeight="normal", titleColor="black",
        titlePadding=20, labelFlush=False,
    ),
)

blue = alt.Chart(blue_df).mark_line(
    color="#0000ff", strokeWidth=5, clip=True
).encode(x=x_enc, y=y_enc, order="wave:Q")

black = alt.Chart(black_df).mark_line(
    color="black", strokeWidth=4, strokeJoin="round", clip=True
).encode(x=x_enc, y=y_enc, order="wave:Q")

green = alt.Chart(green_df).mark_line(
    color="#008000", strokeWidth=1.5, strokeJoin="round", clip=True
).encode(x=x_enc, y=y_enc, order="wave:Q")

chart = alt.layer(blue, black, green).properties(
    width=2326,
    height=696,
    background="white",
    title=alt.TitleParams(
        text="Spectrum of object 30851 in candels-cdfs-35",
        font=FONT, fontSize=50, fontWeight="normal", color="black",
        anchor="middle", frame="group", baseline="alphabetic", offset=-27,
    ),
    padding={"left": 367, "top": 98, "right": 291, "bottom": 90},
    autosize=alt.AutoSizeParams(type="none"),
).configure_view(
    stroke="black", strokeWidth=3
)

chart.save("out.html", embed_options={"renderer": "svg", "actions": False})
